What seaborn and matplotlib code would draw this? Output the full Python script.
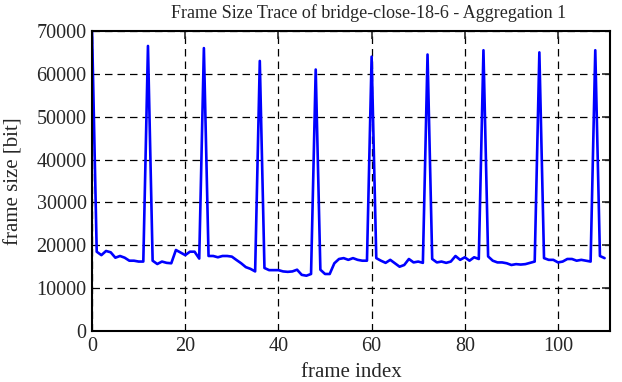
import matplotlib

matplotlib.use("Agg")
import matplotlib.pyplot as plt
import pandas as pd
import seaborn as sns

# Frame sizes in bit, one per frame index
frame_index = list(range(111))
frame_size = [
    70000, 18500, 17700, 18670, 18360, 17100, 17500, 17100, 16400, 16400,
    16200, 16200, 66500, 16400, 15630, 16200, 15900, 15800, 18900, 18300,
    17700, 18500, 18500, 16900, 66000, 17500, 17500, 17200, 17500, 17500,
    17350, 16560, 15800, 14900, 14500, 13900, 63000, 14700, 14200, 14200,
    14200, 13900, 13800, 13900, 14300, 13100, 12900, 13300, 61000, 14300,
    13300, 13300, 15800, 16800, 17000, 16600, 17000, 16600, 16400, 16400,
    64000, 17000, 16400, 15900, 16600, 15800, 15000, 15400, 16800, 16000,
    16200, 15900, 64500, 16800, 16000, 16200, 15900, 16200, 17500, 16600,
    17200, 16400, 17200, 16800, 65500, 17400, 16400, 16000, 16000, 15800,
    15400, 15600, 15500, 15600, 15900, 16200, 65000, 17000, 16600, 16600,
    16000, 16200, 16800, 16800, 16400, 16600, 16400, 16200, 65500, 17500,
    17000,
]
x_ticks = [0, 20, 40, 60, 80, 100]
y_ticks = [0, 10000, 20000, 30000, 40000, 50000, 60000, 70000]

sns.set_style("white")
plt.rcParams["font.family"] = ["Liberation Serif", "DejaVu Serif"]
plt.rcParams.update({"font.size": 14, "axes.linewidth": 1.5})

trace = pd.DataFrame({"frame": frame_index, "size": frame_size})

fig = plt.figure(figsize=(6.22, 3.82), dpi=100)
ax = fig.add_axes([0.148, 0.1335, 0.833, 0.7855])
sns.lineplot(data=trace, x="frame", y="size", color="#0000ff", linewidth=1.9, ax=ax)

ax.set_xlim(0, 111.2)
ax.set_ylim(0, 70000)
ax.set_xticks(x_ticks)
ax.set_yticks(y_ticks)
ax.grid(True, color="black", linestyle=(0, (6, 4)), linewidth=0.9)
ax.tick_params(direction="in", length=6, width=1.2, top=True, right=True,
               labelsize=14.5, pad=4)
for spine in ax.spines.values():
    spine.set_color("black")
ax.set_xlabel("frame index", fontsize=15, labelpad=5)
ax.set_ylabel("frame size [bit]", fontsize=15, labelpad=9)
ax.set_title("Frame Size Trace of bridge-close-18-6 - Aggregation 1",
             fontsize=13, pad=9, x=0.533)

fig.savefig("out.png", dpi=100)
